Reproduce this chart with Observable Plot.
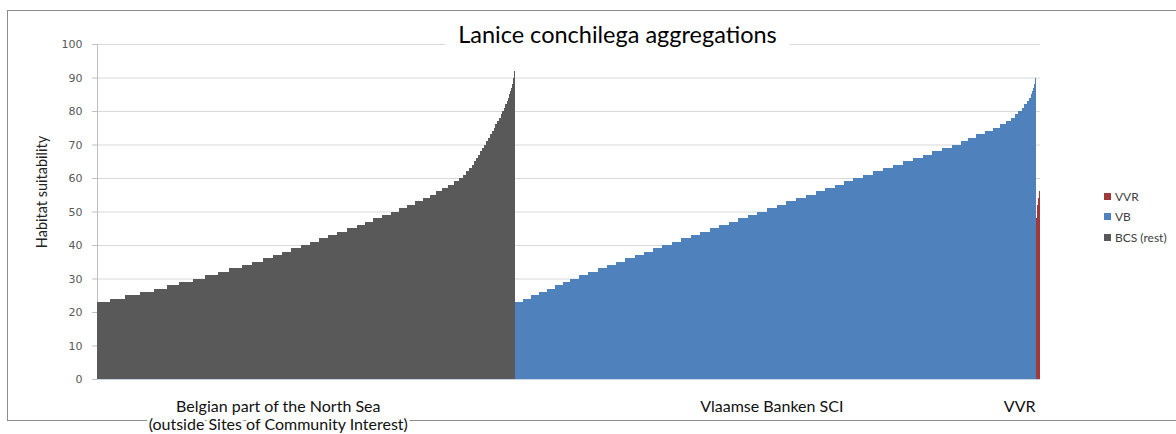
<!DOCTYPE html>
<html>
<head>
<meta charset="utf-8">
<script src="https://cdn.jsdelivr.net/npm/d3@7"></script>
<script src="https://cdn.jsdelivr.net/npm/@observablehq/plot@0.6"></script>
<style>
  html, body { margin: 0; padding: 0; background: #fff; }
  #wrap { position: relative; width: 1176px; height: 434px; overflow: hidden; }
  #border { position: absolute; left: 7px; top: 10px; width: 1200px; height: 411px; border: 1px solid #8c8c8c; box-sizing: border-box; }
  #chart { position: absolute; left: 0; top: 0; }
  #title { position: absolute; left: 445px; top: 20px; width: 345px; height: 28px; line-height: 28px; background: #fff;
           text-align: center; font: 23.5px Lato, sans-serif; color: #000; }
  #ytitle { position: absolute; left: 41px; top: 192px; transform: translate(-50%, -50%) rotate(-90deg);
            white-space: nowrap; font: 14.5px Lato, sans-serif; color: #222; }
  #legend { position: absolute; left: 1104px; top: 186px; font: 12px Lato, sans-serif; color: #404040; }
  #legend .item { display: flex; align-items: center; height: 20.5px; }
  #legend .sw { width: 7px; height: 7px; margin-right: 4px; }
</style>
</head>
<body>
<div id="wrap">
  <div id="border"></div>
  <div id="chart"></div>
  <div id="title"></div>
  <div id="ytitle"></div>
  <div id="legend"></div>
</div>
<script>
// ---- data ----
const chartTitle = "Lanice conchilega aggregations";
const yTitle = "Habitat suitability";
const seriesNames = ["BCS (rest)", "VB", "VVR"];
const seriesColors = ["#595959", "#4f81bd", "#a03a3a"];
const legendOrder = ["VVR", "VB", "BCS (rest)"];
const categoryLabels = ["Belgian part of the North Sea\n(outside Sites of Community Interest)", "Vlaamse Banken SCI", "VVR"];
const yTicks = [0, 10, 20, 30, 40, 50, 60, 70, 80, 90, 100];

// habitat suitability level and number of cells at that level (sorted), per area
const bcsLevels = [23,24,25,26,27,28,29,30,31,32,33,34,35,36,37,38,39,40,41,42,43,44,45,46,47,48,49,50,51,52,
  53,54,55,56,57,58,59,60,61,62,63,64,65,66,67,68,69,70,71,72,73,74,75,76,77,78,79,80,81,82,83,84,85,86,87,88,89,90,91,92];
const bcsCounts = [26,30,30,28,26,24,28,24,26,22,26,20,22,20,18,18,20,18,18,18,18,20,20,16,16,18,18,16,16,16,
  16,14,12,12,12,12,10,8,6,6,6,4,4,4,4,4,4,4,4,4,4,4,2,4,4,4,2,4,2,4,2,2,2,2,2,2,1,1,1,1];

const vbLevels = [23,24,25,26,27,28,29,30,31,32,33,34,35,36,37,38,39,40,41,42,43,44,45,46,47,48,49,50,51,52,
  53,54,55,56,57,58,59,60,61,62,63,64,65,66,67,68,69,70,71,72,73,74,75,76,77,78,79,80,81,82,83,84,85,86,87,88,89,90,91];
const vbCounts = [16,16,16,16,16,16,16,18,18,19,18,19,18,19,18,19,18,19,19,19,19,19,19,19,19,19,19,19,20,19,
  20,19,20,19,19,19,18,20,20,20,19,20,20,20,19,20,20,17,14,17,18,16,13,13,10,7,7,7,5,5,5,3,3,2,2,1,1,1,1];

const vvrLevels = [48,50,52,53,54,55,56,57];
const vvrCounts = [1,1,1,1,1,1,1,1];

// ---- build table ----
const seriesData = [
  {name: seriesNames[0], levels: bcsLevels, counts: bcsCounts, label: categoryLabels[0]},
  {name: seriesNames[1], levels: vbLevels, counts: vbCounts, label: categoryLabels[1]},
  {name: seriesNames[2], levels: vvrLevels, counts: vvrCounts, label: categoryLabels[2]}
];
const rows = [];
const spans = [];
let cursor = 0;
for (const s of seriesData) {
  const start = cursor;
  s.levels.forEach((lv, i) => {
    rows.push({series: s.name, x1: cursor, x2: cursor + s.counts[i], y: lv});
    cursor += s.counts[i];
  });
  spans.push({name: s.name, label: s.label, start, end: cursor, mid: (start + cursor) / 2});
}
const total = cursor;

const labelStyle = {y: () => 0, text: "label", dy: 20, lineAnchor: "top", lineHeight: 1.12,
  fontFamily: "Lato", fontSize: 16, fill: "#111"};

// ---- plot ----
const plot = Plot.plot({
  width: 1176,
  height: 434,
  marginLeft: 97,
  marginRight: 136,
  marginTop: 44,
  marginBottom: 55,
  style: {background: "transparent", fontFamily: "DejaVu Sans", fontSize: "11px", color: "#595959", overflow: "visible"},
  x: {domain: [0, total], axis: null},
  y: {domain: [0, 100], axis: null},
  color: {domain: seriesNames, range: seriesColors},
  marks: [
    Plot.ruleY(yTicks, {stroke: "#d9d9d9", strokeWidth: 1}),
    Plot.ruleX([0], {y1: 0, y2: 100, stroke: "#bfbfbf"}),
    Plot.rectY(rows, {x1: "x1", x2: "x2", y: "y", fill: "series", shapeRendering: "crispEdges"}),
    Plot.ruleY([0], {stroke: "#c8d3e3"}),
    Plot.axisY({ticks: yTicks, tickSize: 5, tickPadding: 10, label: null, stroke: "#bfbfbf", fill: "#595959", fontSize: 11}),
    Plot.text([spans[0]], {...labelStyle, x: "mid", dx: -28, stroke: "white", strokeWidth: 6}),
    Plot.text([spans[1]], {...labelStyle, x: "mid", dx: -4}),
    Plot.text([spans[2]], {...labelStyle, x: "end", dx: -5, textAnchor: "end"})
  ]
});
document.getElementById("chart").appendChild(plot);
document.getElementById("title").textContent = chartTitle;
document.getElementById("ytitle").textContent = yTitle;

const legend = document.getElementById("legend");
for (const name of legendOrder) {
  const item = document.createElement("div");
  item.className = "item";
  const sw = document.createElement("span");
  sw.className = "sw";
  sw.style.background = seriesColors[seriesNames.indexOf(name)];
  const t = document.createElement("span");
  t.textContent = name;
  item.appendChild(sw);
  item.appendChild(t);
  legend.appendChild(item);
}
</script>
</body>
</html>
